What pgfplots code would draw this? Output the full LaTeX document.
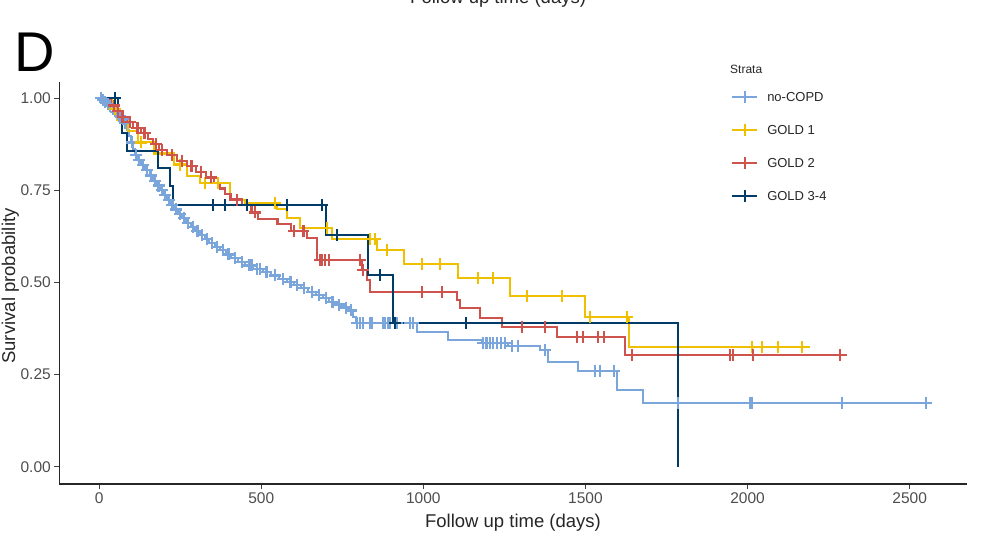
\documentclass[border=0pt]{standalone}
\usepackage{fontspec}
\setmainfont{Liberation Sans}
\usepackage{pgfplots}
\usepackage{pgfplotstable}
\pgfplotsset{compat=1.18}
\definecolor{cnone}{HTML}{7AA6DC}
\definecolor{cgone}{HTML}{EFC000}
\definecolor{cgtwo}{HTML}{CD534C}
\definecolor{cgthree}{HTML}{003C67}
\definecolor{tickgray}{HTML}{4D4D4D}

\pgfplotstableread{
t s
0 1.000
8 0.995
15 0.990
22 0.985
30 0.978
38 0.970
47 0.962
58 0.952
68 0.944
78 0.932
85 0.915
92 0.897
98 0.880
104 0.862
110 0.845
118 0.832
128 0.818
140 0.805
156 0.790
166 0.776
177 0.763
188 0.750
198 0.737
210 0.724
220 0.711
232 0.698
243 0.686
255 0.674
268 0.662
282 0.651
296 0.640
310 0.629
325 0.618
340 0.608
356 0.597
372 0.587
390 0.576
408 0.566
428 0.556
450 0.546
475 0.537
505 0.528
530 0.519
555 0.510
580 0.501
600 0.493
622 0.484
645 0.475
668 0.466
690 0.457
710 0.448
730 0.440
752 0.432
772 0.424
784 0.405
792 0.390
980 0.366
1076 0.344
1180 0.335
1262 0.328
1359 0.316
1384 0.284
1477 0.260
1596 0.208
1677 0.173
2562 0.173
}\nocopdcurve

\pgfplotstableread{
t s
5 1.000
12 0.995
18 0.990
26 0.985
34 0.978
42 0.970
52 0.962
63 0.952
74 0.944
81 0.932
101 0.880
114 0.845
123 0.832
134 0.818
148 0.805
161 0.790
172 0.776
183 0.763
193 0.750
204 0.737
215 0.724
226 0.711
238 0.698
249 0.686
262 0.674
275 0.662
289 0.651
303 0.640
318 0.629
333 0.618
348 0.608
364 0.597
381 0.587
399 0.576
418 0.566
440 0.556
462 0.546
470 0.546
488 0.537
496 0.537
516 0.528
542 0.519
568 0.510
590 0.501
611 0.493
633 0.484
656 0.475
679 0.466
700 0.457
720 0.448
741 0.440
762 0.432
778 0.424
795 0.390
804 0.390
813 0.390
835 0.390
841 0.390
875 0.390
881 0.390
890 0.390
896 0.390
918 0.390
958 0.390
968 0.390
1185 0.335
1195 0.335
1205 0.335
1215 0.335
1228 0.335
1240 0.335
1251 0.335
1273 0.328
1291 0.328
1375 0.316
1529 0.260
1545 0.260
1588 0.260
1785 0.173
2008 0.173
2014 0.173
2292 0.173
2551 0.173
}\nocopdcens

\pgfplotstableread{
t s
0 1.000
40 0.970
55 0.940
90 0.910
120 0.880
170 0.850
230 0.820
270 0.790
311 0.770
404 0.724
450 0.715
548 0.700
579 0.675
619 0.648
718 0.617
856 0.588
940 0.550
1106 0.512
1267 0.463
1498 0.406
1634 0.325
2192 0.325
}\goldonecurve

\pgfplotstableread{
t s
48 0.970
130 0.880
250 0.820
327 0.770
366 0.770
542 0.715
702 0.648
835 0.617
850 0.617
888 0.588
995 0.550
1051 0.550
1168 0.512
1214 0.512
1319 0.463
1427 0.463
1514 0.406
1628 0.406
2013 0.325
2044 0.325
2093 0.325
2167 0.325
}\goldonecens

\pgfplotstableread{
t s
0 1.000
35 0.980
50 0.965
65 0.950
85 0.935
105 0.920
130 0.905
150 0.890
165 0.875
185 0.860
210 0.845
240 0.830
270 0.815
300 0.800
330 0.785
355 0.770
372 0.755
388 0.740
405 0.725
440 0.710
470 0.690
490 0.672
550 0.658
592 0.640
640 0.620
673 0.560
810 0.534
826 0.507
835 0.474
1103 0.452
1113 0.430
1174 0.403
1242 0.379
1412 0.352
1622 0.303
2306 0.303
}\goldtwocurve

\pgfplotstableread{
t s
45 0.980
58 0.965
72 0.950
95 0.935
118 0.920
140 0.905
175 0.875
195 0.860
225 0.845
255 0.830
285 0.815
315 0.800
345 0.785
425 0.725
480 0.690
600 0.640
630 0.640
681 0.560
687 0.560
696 0.560
708 0.560
804 0.560
813 0.534
995 0.474
1057 0.474
1304 0.379
1375 0.379
1474 0.352
1492 0.352
1538 0.352
1557 0.352
1643 0.303
1946 0.303
1955 0.303
2016 0.303
2285 0.303
}\goldtwocens

\pgfplotstableread{
t s
0 1.000
58 0.952
70 0.905
85 0.857
181 0.810
218 0.762
227 0.710
699 0.629
829 0.520
906 0.390
1785 0.000
}\goldthreecurve

\pgfplotstableread{
t s
50 1.000
351 0.710
388 0.710
456 0.710
579 0.710
687 0.710
733 0.629
866 0.520
912 0.390
1131 0.390
}\goldthreecens

\begin{document}
\begin{tikzpicture}
\begin{axis}[
  at={(59.3pt,58pt)}, anchor=south west,
  scale only axis, width=907.4pt, height=402pt,
  xmin=-123, xmax=2676, ymin=-0.047, ymax=1.044,
  axis x line*=bottom, axis y line*=left,
  axis line style={-, line width=1.3pt, black!85},
  xtick={0,500,1000,1500,2000,2500},
  ytick={0,0.25,0.5,0.75,1},
  tick align=outside, major tick length=5pt,
  tick style={line width=1pt, black!75},
  ticklabel style={font=\fontsize{15.5}{18}\selectfont, text=tickgray},
  /pgf/number format/assume math mode=true,
  xticklabel style={/pgf/number format/1000 sep={}},
  yticklabel style={/pgf/number format/fixed, /pgf/number format/fixed zerofill, /pgf/number format/precision=2},
  xlabel={Follow up time (days)}, ylabel={Survival probability},
  label style={font=\fontsize{18.5}{22}\selectfont, text=black!85},
  xlabel style={at={(axis description cs:0.5,-0.107)}, anchor=base},
  ylabel style={at={(axis description cs:-0.0488,0.4925)}, anchor=base},
  legend style={at={(axis description cs:0.737,0.985)}, anchor=north west,
    draw=none, fill=none, font=\fontsize{13}{15}\selectfont, text=black!85,
    row sep=19pt, column sep=9pt, nodes={inner sep=0pt}},
  legend cell align=left,
  legend image code/.code={
    \draw[#1, line width=2pt] (0pt,0pt) -- (25pt,0pt);
    \draw[#1, line width=2pt] (12.5pt,-6pt) -- (12.5pt,6pt);
  },
  cens/.style={only marks, mark=+, mark size=6pt, line width=2.2pt, mark options={solid, line width=2.2pt}, forget plot},
]
\addplot[cnone, line width=2pt, const plot] table[x=t,y=s] {\nocopdcurve};
\addlegendentry{no-COPD}
\addplot[cnone, cens] table[x=t,y=s] {\nocopdcens};
\addplot[cgone, line width=2.1pt, const plot] table[x=t,y=s] {\goldonecurve};
\addlegendentry{GOLD 1}
\addplot[cgone, cens] table[x=t,y=s] {\goldonecens};
\addplot[cgtwo, line width=2.1pt, const plot] table[x=t,y=s] {\goldtwocurve};
\addlegendentry{GOLD 2}
\addplot[cgtwo, cens] table[x=t,y=s] {\goldtwocens};
\addplot[cgthree, line width=2.1pt, const plot] table[x=t,y=s] {\goldthreecurve};
\addlegendentry{GOLD 3-4}
\addplot[cgthree, cens] table[x=t,y=s] {\goldthreecens};
\end{axis}
\node[anchor=base west, inner sep=0pt, font=\fontsize{56}{60}\selectfont] at (14pt,470pt) {D};
\node[anchor=base west, inner sep=0pt, font=\fontsize{12}{14}\selectfont, text=black!85] at (730pt,468pt) {Strata};
\node[anchor=base west, inner sep=0pt, font=\fontsize{18.5}{22}\selectfont, text=black!85] at (410pt,538pt) {Follow up time (days)};
\pgfresetboundingbox
\useasboundingbox (0pt,0pt) rectangle (989pt,542pt);
\end{tikzpicture}
\end{document}
